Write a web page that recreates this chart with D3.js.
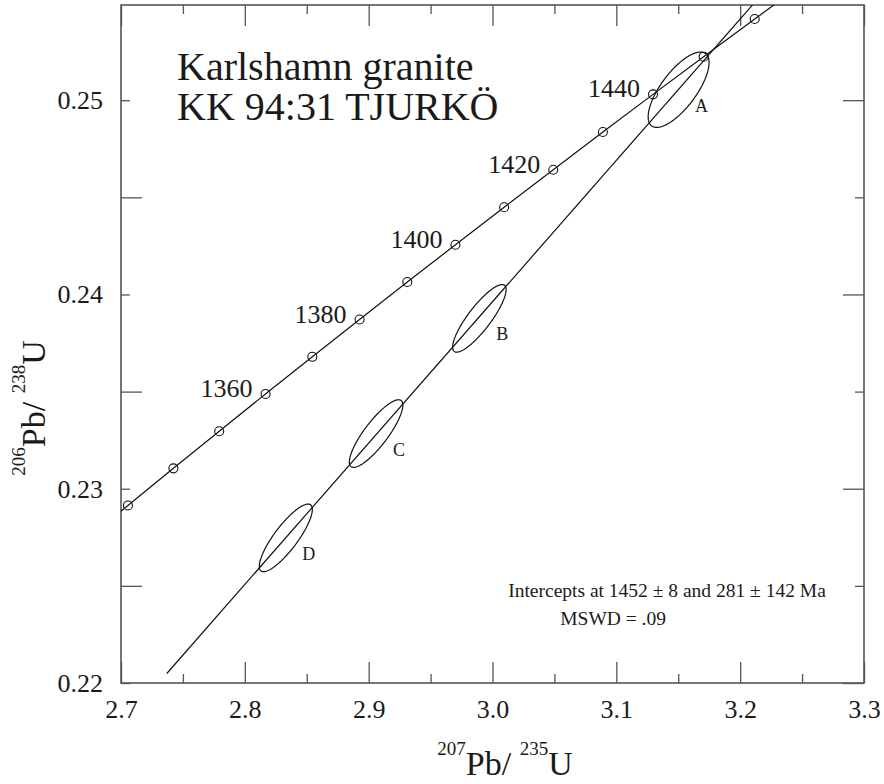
<!DOCTYPE html>
<html>
<head>
<meta charset="utf-8">
<script src="https://cdn.jsdelivr.net/npm/d3@7"></script>
<style>
  body { margin: 0; background: #fff; }
  svg { display: block; }
  text { font-family: "Liberation Serif", "Times New Roman", Times, serif; fill: #1a1a1a; }
</style>
</head>
<body>
<svg id="chart" width="884" height="784"></svg>
<script>
// Concordia curve: age (Ma) and the matching 207Pb/235U and 206Pb/238U ratios
const concordiaAges = [1320, 1330, 1340, 1350, 1360, 1370, 1380, 1390, 1400, 1410, 1420, 1430, 1440, 1450, 1460, 1470];
const concordiaPb207U235 = [2.66930, 2.70562, 2.74230, 2.77933, 2.81674, 2.85451, 2.89266, 2.93119, 2.97009, 3.00939, 3.04907, 3.08914, 3.12962, 3.17048, 3.21176, 3.25345];
const concordiaPb206U238 = [0.22724, 0.22914, 0.23105, 0.23296, 0.23488, 0.23679, 0.23871, 0.24064, 0.24256, 0.24449, 0.24642, 0.24836, 0.25030, 0.25224, 0.25418, 0.25613];
const labelledAges = [1360, 1380, 1400, 1420, 1440];

// Discordia regression line (end points in ratio space)
const discordiaPb207U235 = [2.737, 3.230];
const discordiaPb206U238 = [0.22049, 0.25636];

// Zircon fractions with their error ellipses
const fractionNames = ["A", "B", "C", "D"];
const fractionPb207U235 = [3.1503, 2.9894, 2.9060, 2.8331];
const fractionErr207 = [0.0246, 0.0216, 0.0216, 0.0214];
const fractionPb206U238 = [0.25054, 0.23877, 0.23284, 0.22747];
const fractionErr206 = [0.00194, 0.00174, 0.00174, 0.00174];
const fractionRho = [0.72, 0.85, 0.84, 0.84];

// Axis ticks
const xTicks = [2.7, 2.8, 2.9, 3.0, 3.1, 3.2, 3.3];
const xMinorTicks = [2.75, 2.85, 2.95, 3.05, 3.15, 3.25];
const yTicks = [0.22, 0.23, 0.24, 0.25];
const yMinorTicks = [0.225, 0.235, 0.245];

const titleLines = ["Karlshamn granite", "KK 94:31 TJURKÖ"];
const interceptText = "Intercepts at 1452 ± 8 and 281 ± 142 Ma";
const mswdText = "MSWD = .09";

const svg = d3.select("#chart");
const frame = { left: 121, right: 864, top: 5, bottom: 683 };

const x = d3.scaleLinear().domain([2.7, 3.3]).range([frame.left, frame.right]);
const y = d3.scaleLinear().domain([0.22, 0.2549]).range([frame.bottom, frame.top]);

const axisColor = "#555";
const inkColor = "#111";

svg.append("defs").append("clipPath").attr("id", "plotClip")
  .append("rect")
  .attr("x", frame.left).attr("y", frame.top)
  .attr("width", frame.right - frame.left).attr("height", frame.bottom - frame.top);

// ---- axes (ticks point inward) ----
function styleAxis(g) {
  g.attr("font-family", null);
  g.select(".domain").remove();
  g.selectAll(".tick line").attr("stroke", axisColor).attr("stroke-width", 1.3);
  g.selectAll(".tick text").attr("font-size", 26).attr("fill", "#1a1a1a");
}

const fmtX = d3.format(".1f");
const fmtY = d3.format(".2f");

svg.append("g").attr("transform", `translate(0,${frame.bottom})`)
  .call(d3.axisBottom(x).tickValues(xTicks).tickSize(-21).tickPadding(17).tickFormat(fmtX))
  .call(styleAxis);
svg.append("g").attr("transform", `translate(0,${frame.bottom})`)
  .call(d3.axisBottom(x).tickValues(xMinorTicks).tickSize(-9).tickFormat(""))
  .call(styleAxis);
svg.append("g").attr("transform", `translate(0,${frame.top})`)
  .call(d3.axisTop(x).tickValues(xTicks).tickSize(-21).tickFormat(""))
  .call(styleAxis);
svg.append("g").attr("transform", `translate(0,${frame.top})`)
  .call(d3.axisTop(x).tickValues(xMinorTicks).tickSize(-9).tickFormat(""))
  .call(styleAxis);

svg.append("g").attr("transform", `translate(${frame.left},0)`)
  .call(d3.axisLeft(y).tickValues(yTicks).tickSize(-9).tickPadding(18).tickFormat(fmtY))
  .call(styleAxis);
svg.append("g").attr("transform", `translate(${frame.left},0)`)
  .call(d3.axisLeft(y).tickValues(yMinorTicks).tickSize(-21).tickFormat(""))
  .call(styleAxis);
svg.append("g").attr("transform", `translate(${frame.right},0)`)
  .call(d3.axisRight(y).tickValues(yTicks).tickSize(-21).tickFormat(""))
  .call(styleAxis);
svg.append("g").attr("transform", `translate(${frame.right},0)`)
  .call(d3.axisRight(y).tickValues(yMinorTicks).tickSize(-9).tickFormat(""))
  .call(styleAxis);

svg.append("rect")
  .attr("x", frame.left).attr("y", frame.top)
  .attr("width", frame.right - frame.left).attr("height", frame.bottom - frame.top)
  .attr("fill", "none").attr("stroke", axisColor).attr("stroke-width", 1.6);

// ---- plot content ----
const plot = svg.append("g").attr("clip-path", "url(#plotClip)");

const concordia = concordiaAges.map((age, i) => ({
  age, px: concordiaPb207U235[i], py: concordiaPb206U238[i]
}));

plot.append("path")
  .datum(concordia)
  .attr("fill", "none").attr("stroke", inkColor).attr("stroke-width", 1.2)
  .attr("d", d3.line().x(d => x(d.px)).y(d => y(d.py)).curve(d3.curveCatmullRom));

const inView = d => d.px >= 2.7 && d.px <= 3.3 && d.py >= 0.22 && d.py <= 0.2549;

plot.selectAll("circle.age")
  .data(concordia.filter(inView))
  .join("circle")
  .attr("class", "age")
  .attr("cx", d => x(d.px)).attr("cy", d => y(d.py)).attr("r", 4.5)
  .attr("fill", "none").attr("stroke", inkColor).attr("stroke-width", 1.1);

svg.selectAll("text.ageLabel")
  .data(concordia.filter(d => labelledAges.includes(d.age)))
  .join("text")
  .attr("class", "ageLabel")
  .attr("x", d => x(d.px) - 13).attr("y", d => y(d.py) + 3)
  .attr("text-anchor", "end").attr("font-size", 26)
  .text(d => d.age);

// discordia
const discordia = discordiaPb207U235.map((v, i) => [v, discordiaPb206U238[i]]);
plot.append("path")
  .datum(discordia)
  .attr("fill", "none").attr("stroke", inkColor).attr("stroke-width", 1.2)
  .attr("d", d3.line().x(d => x(d[0])).y(d => y(d[1])));

// error ellipses
const fractions = fractionNames.map((name, i) => ({
  name,
  cx: fractionPb207U235[i], sx: fractionErr207[i],
  cy: fractionPb206U238[i], sy: fractionErr206[i],
  rho: fractionRho[i]
}));

function ellipsePoints(f) {
  const k = Math.sqrt(1 - f.rho * f.rho);
  return d3.range(0, 2 * Math.PI, Math.PI / 90).map(t => [
    f.cx + f.sx * Math.cos(t),
    f.cy + f.sy * (f.rho * Math.cos(t) + k * Math.sin(t))
  ]);
}

plot.selectAll("path.ellipse")
  .data(fractions)
  .join("path")
  .attr("class", "ellipse")
  .attr("fill", "none").attr("stroke", inkColor).attr("stroke-width", 1.2)
  .attr("d", f => d3.line().x(d => x(d[0])).y(d => y(d[1])).curve(d3.curveLinearClosed)(ellipsePoints(f)));

svg.selectAll("text.fraction")
  .data(fractions)
  .join("text")
  .attr("class", "fraction")
  .attr("x", f => x(f.cx) + 23).attr("y", f => y(f.cy) + 22)
  .attr("text-anchor", "middle").attr("font-size", 18)
  .text(f => f.name);

// ---- titles and annotations ----
svg.selectAll("text.title")
  .data(titleLines)
  .join("text")
  .attr("class", "title")
  .attr("x", 177).attr("y", (d, i) => 80 + i * 40)
  .attr("font-size", 40)
  .text(d => d);

svg.append("text")
  .attr("x", 667).attr("y", 597)
  .attr("text-anchor", "middle").attr("font-size", 19.5)
  .text(interceptText);
svg.append("text")
  .attr("x", 666).attr("y", 625)
  .attr("text-anchor", "end").attr("font-size", 19.5)
  .text(mswdText);

// axis titles with isotope superscripts
function isotopeTitle(sel, a, b, c) {
  sel.append("tspan").attr("font-size", 19).attr("dy", -20).text(a);
  sel.append("tspan").attr("font-size", 34).attr("dy", 20).text("Pb/ ");
  sel.append("tspan").attr("font-size", 19).attr("dy", -20).text(b);
  sel.append("tspan").attr("font-size", 34).attr("dy", 20).text(c);
}

svg.append("text")
  .attr("x", 505).attr("y", 775)
  .attr("text-anchor", "middle")
  .call(isotopeTitle, "207", "235", "U");

svg.append("text")
  .attr("transform", "translate(45,408) rotate(-90)")
  .attr("text-anchor", "middle")
  .call(isotopeTitle, "206", "238", "U");
</script>
</body>
</html>
